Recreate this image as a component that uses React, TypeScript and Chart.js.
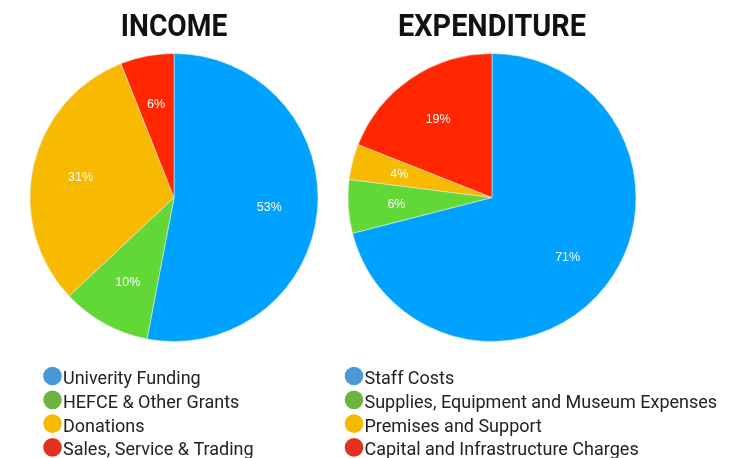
import React, { useEffect, useRef } from "react";
import { Chart, registerables } from "chart.js";

Chart.register(...registerables);

const incomeLabels = ["Univerity Funding", "HEFCE & Other Grants", "Donations", "Sales, Service & Trading"];
const incomeValues = [53, 10, 31, 6];
const expenditureLabels = [
  "Staff Costs",
  "Supplies, Equipment and Museum Expenses",
  "Premises and Support",
  "Capital and Infrastructure Charges",
];
const expenditureValues = [71, 6, 4, 19];

const sliceColors = ["#00A2FF", "#61D836", "#F8BA00", "#FF2600"];
const legendColors = ["#4A98D6", "#6DB33F", "#F6B900", "#E2321F"];

const W = 734;
const H = 458;

const pctLabelPlugin = {
  id: "pctLabels",
  afterDatasetsDraw(chart: any) {
    const ctx = chart.ctx;
    const meta = chart.getDatasetMeta(0);
    const data = chart.data.datasets[0].data as number[];
    ctx.save();
    ctx.fillStyle = "#ffffff";
    ctx.font = "12.5px 'Liberation Sans', Arial, sans-serif";
    ctx.textAlign = "center";
    ctx.textBaseline = "middle";
    meta.data.forEach((arc: any, i: number) => {
      const { x, y, startAngle, endAngle, outerRadius } = arc.getProps(
        ["x", "y", "startAngle", "endAngle", "outerRadius"],
        true
      );
      const mid = (startAngle + endAngle) / 2;
      const r = outerRadius * 0.665;
      ctx.fillText(data[i] + "%", x + Math.cos(mid) * r, y + Math.sin(mid) * r + 1);
    });
    ctx.restore();
  },
};

const titlePlugin = {
  id: "condTitle",
  afterDraw(chart: any) {
    const opts = chart.options.plugins.condTitle;
    if (!opts) return;
    const ctx = chart.ctx;
    const cx = (chart.chartArea.left + chart.chartArea.right) / 2;
    ctx.save();
    ctx.translate(cx, opts.y);
    ctx.scale(opts.scaleX, 1);
    ctx.fillStyle = "#111111";
    ctx.font = "bold 32px Roboto, sans-serif";
    ctx.textAlign = "center";
    ctx.textBaseline = "alphabetic";
    ctx.fillText(opts.text, 0, 0);
    ctx.restore();
  },
};

const legendPlugin = {
  id: "listLegend",
  afterDraw(chart: any) {
    const opts = chart.options.plugins.listLegend;
    if (!opts) return;
    const ctx = chart.ctx;
    const labels = chart.data.labels as string[];
    ctx.save();
    labels.forEach((lab, i) => {
      const cy = opts.y + i * 23.8;
      ctx.beginPath();
      ctx.fillStyle = legendColors[i];
      ctx.arc(opts.x, cy, 9.3, 0, Math.PI * 2);
      ctx.fill();
      ctx.fillStyle = "#222222";
      ctx.font = "18px Roboto, 'Noto Sans', sans-serif";
      ctx.textAlign = "left";
      ctx.textBaseline = "alphabetic";
      ctx.fillText(lab, opts.x + 10.5, cy + 8);
    });
    ctx.restore();
  },
};

function makeConfig(
  title: string,
  scaleX: number,
  labels: string[],
  values: number[],
  padLeft: number,
  padRight: number,
  legendX: number
): any {
  return {
    type: "pie",
    data: {
      labels,
      datasets: [
        {
          data: values,
          backgroundColor: sliceColors,
          borderColor: "rgba(235,235,235,0.55)",
          borderWidth: 1,
        },
      ],
    },
    options: {
      responsive: false,
      animation: false,
      events: [],
      layout: { padding: { left: padLeft, right: padRight, top: 53, bottom: H - 342 } },
      plugins: {
        legend: { display: false },
        tooltip: { enabled: false },
        title: { display: false },
        condTitle: { text: title, y: 36, scaleX },
        listLegend: { x: legendX, y: 376 },
      },
    },
    plugins: [pctLabelPlugin, titlePlugin, legendPlugin],
  };
}

export default function App() {
  const ref1 = useRef<HTMLCanvasElement>(null);
  const ref2 = useRef<HTMLCanvasElement>(null);
  useEffect(() => {
    const c1 = new Chart(
      ref1.current!,
      makeConfig("INCOME", 0.88, incomeLabels, incomeValues, 29, W - 319, 52.5)
    );
    const c2 = new Chart(
      ref2.current!,
      makeConfig("EXPENDITURE", 0.9, expenditureLabels, expenditureValues, 347, W - 637, 354)
    );
    return () => {
      c1.destroy();
      c2.destroy();
    };
  }, []);
  const style: React.CSSProperties = { position: "absolute", left: 0, top: 0 };
  return (
    <div style={{ position: "fixed", left: 0, top: 0, width: W, height: H, background: "#fff" }}>
      <canvas ref={ref1} width={W} height={H} style={style} />
      <canvas ref={ref2} width={W} height={H} style={style} />
    </div>
  );
}
